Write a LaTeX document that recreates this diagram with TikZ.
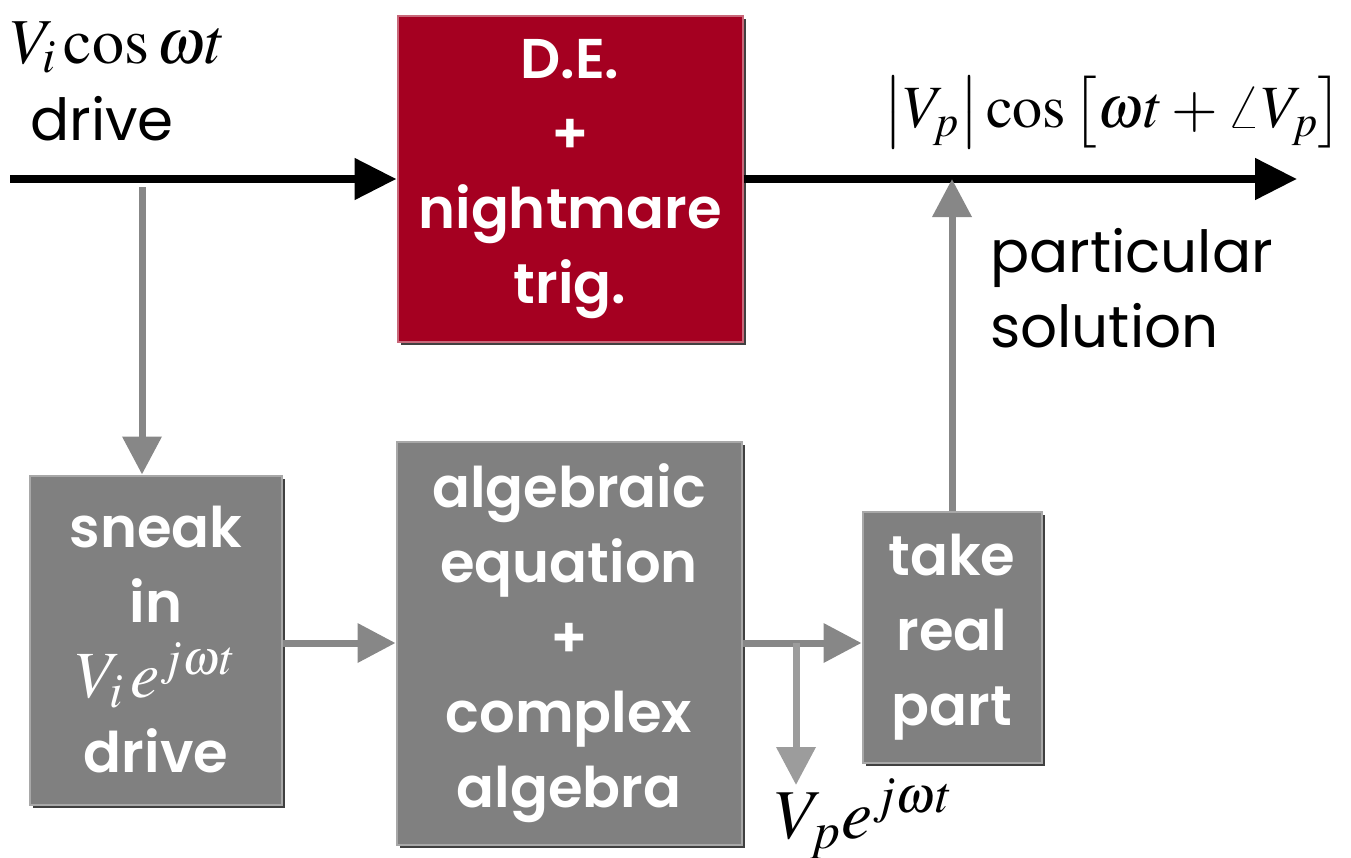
\documentclass[tikz,border=0pt]{standalone}
\usepackage{mathptmx}
\usepackage[no-math]{fontspec}
\setmainfont{Poppins}[BoldFont={Poppins SemiBold}]
\usetikzlibrary{arrows.meta,shadows,positioning}

\definecolor{deRed}{HTML}{A50021}
\definecolor{deRedEdge}{HTML}{C8687A}
\definecolor{boxGray}{HTML}{808080}
\definecolor{boxEdge}{HTML}{A8A8A8}
\definecolor{arrowGray}{HTML}{878787}
\definecolor{tapGray}{HTML}{9C9C9C}

\begin{document}
\begin{tikzpicture}[x=1pt, y=-1pt,
  block/.style={rectangle, draw=boxEdge, line width=2pt, fill=boxGray, text=white, align=center, inner sep=0pt,
    font=\fontsize{56}{75}\selectfont\bfseries,
    drop shadow={shadow xshift=3pt, shadow yshift=-3pt, fill=black!75, opacity=1}},
  plaintext/.style={inner sep=0pt, font=\fontsize{58}{75}\selectfont},
  mainline/.style={line width=8pt, -{Triangle[length=42pt,width=40pt]}},
  sideline/.style={draw=arrowGray, line width=7pt, -{Triangle[length=38pt,width=38pt]}}]

  \useasboundingbox (0,0) rectangle (1351,857);

  % Bloques
  \node[block, fill=deRed, draw=deRedEdge, minimum width=345pt, minimum height=326pt] (de) at (570,179) {D.E.\\+\\nightmare\\trig.};
  \node[block, minimum width=252pt, minimum height=329pt] (sneak) at (156,640) {sneak\\in\\{\fontsize{66}{75}\selectfont$V_i\,e^{j\omega t}$}\\drive};
  \node[block, minimum width=345pt, minimum height=403pt] (alg) at (569,643) {algebraic\\equation\\+\\complex\\algebra};
  \node[block, minimum width=179pt, minimum height=251pt] (take) at (952,637) {take\\real\\part};

  % Textos
  \node[plaintext, anchor=base west, font=\fontsize{64}{75}\selectfont] (vin) at (10,63) {$V_i\cos\omega t$};
  \node[plaintext, anchor=base west] (drv) at (30,140) {drive};
  \node[plaintext, anchor=base east, font=\fontsize{60}{75}\selectfont] (vout) at (1343,127) {$\left|V_p\right|\cos\left[\omega t+\angle V_p\right]$};
  \node[plaintext, anchor=north west, align=left] (part) at (990,228) {particular\\solution};
  \node[plaintext, anchor=base west, font=\fontsize{70}{75}\selectfont] (vpe) at (775,838) {$V_p e^{j\omega t}$};

  % Puntos libres
  \coordinate (in) at (10,179);
  \coordinate (out) at (1297,179);
  \coordinate (tapin) at (142,187);
  \coordinate (tap) at (796,643);
  \coordinate (tapend) at (796,785);

  % Flechas principales
  \draw[mainline] (in) -- (de.west);
  \draw[mainline] (de.east) -- (out);

  % Flechas grises
  \draw[sideline] (tapin) -- (tapin |- sneak.north);
  \draw[sideline] (sneak.east |- alg.west) -- (alg.west);
  \draw[sideline] (alg.east) -- (take.west |- alg.east);
  \draw[sideline, draw=tapGray] (tap) -- (tapend);
  \draw[sideline] (take.north) -- (take.north |- out);

\end{tikzpicture}
\end{document}
